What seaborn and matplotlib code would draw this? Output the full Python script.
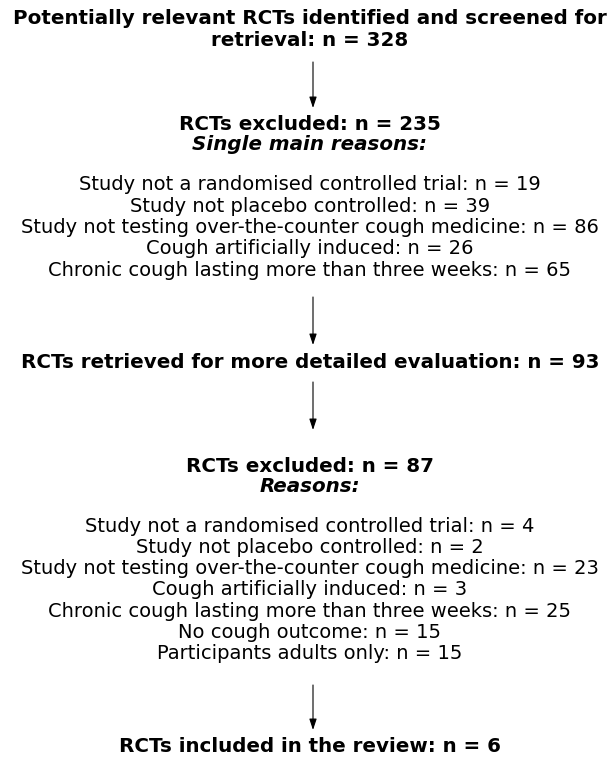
import matplotlib
matplotlib.use("Agg")
import matplotlib.pyplot as plt
import seaborn as sns

sns.set_theme(style="white")
plt.rcParams['font.family'] = ['DejaVu Sans']

# --- data ---
identified_n = 328
excluded1_n = 235
retrieved_n = 93
excluded2_n = 87
included_n = 6

reasons1 = ["Study not a randomised controlled trial",
            "Study not placebo controlled",
            "Study not testing over-the-counter cough medicine",
            "Cough artificially induced",
            "Chronic cough lasting more than three weeks"]
reasons1_n = [19, 39, 86, 26, 65]

reasons2 = ["Study not a randomised controlled trial",
            "Study not placebo controlled",
            "Study not testing over-the-counter cough medicine",
            "Cough artificially induced",
            "Chronic cough lasting more than three weeks",
            "No cough outcome",
            "Participants adults only"]
reasons2_n = [4, 2, 23, 3, 25, 15, 15]

# --- layout (pixel coordinates) ---
W, H = 611, 768
fig = plt.figure(figsize=(W / 100, H / 100), dpi=100)
ax = fig.add_axes([0, 0, 1, 1])
ax.set_xlim(0, W)
ax.set_ylim(H, 0)
ax.axis('off')

cx = 310
bold_size = 14.3
body_size = 14.0
body_step = 21.3


def bold(y, s, style='normal'):
    ax.text(cx, y, s, ha='center', va='center', fontsize=bold_size,
            fontweight='bold', style=style, color='black')


def body(y0, labels, counts):
    for i, (lab, n) in enumerate(zip(labels, counts)):
        ax.text(cx, y0 + i * body_step, f"{lab}: n = {n}", ha='center',
                va='center', fontsize=body_size, color='black')


def arrow(y0, y1):
    ax.annotate('', xy=(313, y1), xytext=(313, y0),
                arrowprops=dict(arrowstyle='-|>,head_length=0.6,head_width=0.2',
                                color='black', lw=0.8,
                                mutation_scale=11, shrinkA=0, shrinkB=0))


bold(18, "Potentially relevant RCTs identified and screened for")
bold(40, f"retrieval: n = {identified_n}")
arrow(62, 108)
bold(124, f"RCTs excluded: n = {excluded1_n}")
bold(144, "Single main reasons:", style='italic')
body(185, reasons1, reasons1_n)
arrow(297, 345)
bold(363, f"RCTs retrieved for more detailed evaluation: n = {retrieved_n}")
arrow(382, 430)
bold(466, f"RCTs excluded: n = {excluded2_n}")
bold(487, "Reasons:", style='italic')
body(526, reasons2, reasons2_n)
arrow(685, 730)
bold(747, f"RCTs included in the review: n = {included_n}")

fig.savefig("out.png", dpi=100, facecolor='white')
